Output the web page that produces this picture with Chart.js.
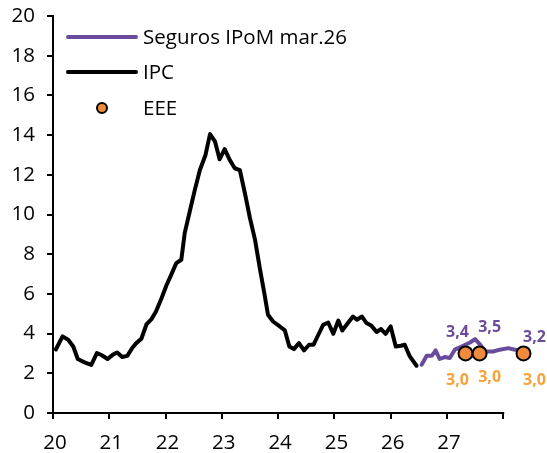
<!DOCTYPE html>
<html>
<head>
<meta charset="utf-8">
<script src="https://cdn.jsdelivr.net/npm/chart.js@4"></script>
<style>
html,body{margin:0;padding:0;background:#fff;}
#wrap{width:547px;height:453px;position:relative;}
</style>
</head>
<body>
<div id="wrap"><canvas id="c" width="547" height="453"></canvas></div>
<script>
// ---- Data (x in years, e.g. 22.5 = mid-2022) ----
const ipcX = [20.05,20.17,20.27,20.36,20.44,20.56,20.68,20.78,20.86,20.97,21.06,21.14,21.23,21.32,21.41,21.48,21.57,21.66,21.75,21.83,21.93,22.02,22.10,22.19,22.28,22.34,22.43,22.52,22.61,22.71,22.79,22.88,22.96,23.05,23.14,23.23,23.32,23.41,23.50,23.59,23.68,23.75,23.82,23.91,24.03,24.12,24.20,24.28,24.37,24.46,24.55,24.63,24.73,24.80,24.89,24.98,25.07,25.14,25.24,25.33,25.40,25.49,25.57,25.66,25.75,25.83,25.91,26.00,26.09,26.18,26.25,26.34,26.46];
const ipcY = [3.2,3.86,3.69,3.35,2.72,2.55,2.42,3.02,2.92,2.72,2.93,3.05,2.82,2.88,3.29,3.52,3.74,4.46,4.73,5.11,5.79,6.46,6.96,7.55,7.72,9.06,10.15,11.24,12.24,13.0,14.05,13.67,12.78,13.29,12.75,12.33,12.24,11.07,9.81,8.72,7.21,6.12,4.95,4.61,4.36,4.16,3.35,3.22,3.52,3.15,3.44,3.44,4.03,4.44,4.56,3.99,4.66,4.16,4.53,4.86,4.70,4.86,4.53,4.39,4.08,4.23,3.99,4.36,3.35,3.39,3.44,2.85,2.38];
const segX = [26.55,26.64,26.73,26.80,26.87,26.96,27.05,27.14,27.29,27.41,27.50,27.59,27.68,27.82,27.94,28.09,28.21,28.33];
const segY = [2.43,2.88,2.88,3.15,2.72,2.82,2.77,3.19,3.39,3.55,3.72,3.44,3.10,3.10,3.19,3.27,3.19,3.10];
const eeeX = [27.33,27.58,28.36];
const eeeY = [3.0,3.0,3.0];
const segLabels = ['3,4','3,5','3,2'];
const eeeLabels = ['3,0','3,0','3,0'];
const yTicks = [0,2,4,6,8,10,12,14,16,18,20];
const xTickValues = [20,21,22,23,24,25,26,27,28];
const xTickLabels = ['20','21','22','23','24','25','26','27',''];
const seriesNames = ['Seguros IPoM mar.26','IPC','EEE'];

const PURPLE = '#6A4C9C';
const ORANGE = '#F08A3C';
const ORANGE_TXT = '#F7A13A';
const FONT = "'Open Sans', 'Noto Sans', sans-serif";
const FSIZE = 20.5;

const toPts = (xs, ys) => xs.map((x,i)=>({x:x,y:ys[i]}));

const legendPlugin = {
  id:'customLegend',
  afterDraw(chart){
    const ctx = chart.ctx;
    ctx.save();
    ctx.font = FSIZE + "px " + FONT;
    ctx.textBaseline = 'middle';
    ctx.textAlign = 'left';
    const rows = [37,72,108];
    ctx.lineCap = 'round';
    ctx.lineWidth = 4;
    ctx.strokeStyle = PURPLE;
    ctx.beginPath(); ctx.moveTo(68,rows[0]); ctx.lineTo(136,rows[0]); ctx.stroke();
    ctx.strokeStyle = '#000';
    ctx.beginPath(); ctx.moveTo(68,rows[1]); ctx.lineTo(136,rows[1]); ctx.stroke();
    ctx.fillStyle = ORANGE; ctx.strokeStyle = '#000'; ctx.lineWidth = 2;
    ctx.beginPath(); ctx.arc(102,rows[2],5,0,Math.PI*2); ctx.fill(); ctx.stroke();
    ctx.fillStyle = '#000';
    seriesNames.forEach((n,i)=>ctx.fillText(n,143,rows[i]+1));
    ctx.restore();
  }
};

// x axis line only spans the labelled years (20..28), data may run past it
const axisLinePlugin = {
  id:'xAxisLine',
  afterDraw(chart){
    const ctx = chart.ctx, xs = chart.scales.x;
    const y = chart.chartArea.bottom;
    ctx.save();
    ctx.strokeStyle = '#000'; ctx.lineWidth = 2;
    ctx.beginPath();
    ctx.moveTo(xs.getPixelForValue(20)-1, y);
    ctx.lineTo(xs.getPixelForValue(28)+1, y);
    ctx.stroke();
    ctx.restore();
  }
};

const labelPlugin = {
  id:'valueLabels',
  afterDatasetsDraw(chart){
    const ctx = chart.ctx;
    const xs = chart.scales.x, ys = chart.scales.y;
    const dx = [-8,10,11];
    const segDy = [-13,-16,-12];
    const eeeDy = [27,24,27];
    ctx.save();
    ctx.font = "bold 16px " + FONT;
    ctx.textAlign = 'center';
    ctx.textBaseline = 'middle';
    eeeX.forEach((x,i)=>{
      const px = xs.getPixelForValue(x) + dx[i];
      ctx.fillStyle = PURPLE;
      ctx.fillText(segLabels[i], px, ys.getPixelForValue(parseFloat(segLabels[i].replace(',','.'))) + segDy[i]);
      ctx.fillStyle = ORANGE_TXT;
      ctx.fillText(eeeLabels[i], px, ys.getPixelForValue(eeeY[i]) + eeeDy[i]);
    });
    ctx.restore();
  }
};

new Chart(document.getElementById('c'), {
  type:'line',
  data:{
    datasets:[
      {label:seriesNames[1], data:toPts(ipcX,ipcY), borderColor:'#000', borderWidth:4, pointRadius:0, tension:0, clip:false, order:3, borderJoinStyle:'round', borderCapStyle:'round'},
      {label:seriesNames[0], data:toPts(segX,segY), borderColor:PURPLE, borderWidth:4, pointRadius:0, tension:0, clip:false, order:2, borderJoinStyle:'round', borderCapStyle:'round'},
      {label:seriesNames[2], data:toPts(eeeX,eeeY), showLine:false, pointRadius:7, pointBackgroundColor:ORANGE, pointBorderColor:'#000', pointBorderWidth:2, clip:false, order:1}
    ]
  },
  options:{
    responsive:false,
    animation:false,
    devicePixelRatio:1,
    layout:{padding:{top:16,right:10,left:0,bottom:0}},
    plugins:{legend:{display:false}, tooltip:{enabled:false}},
    scales:{
      x:{
        type:'linear', min:20, max:28.6,
        afterBuildTicks(s){ s.ticks = xTickValues.map(v=>({value:v})); },
        afterFit(s){ s.height = 40; s.paddingLeft = 0; s.paddingRight = 0; },
        ticks:{ callback:(v)=> xTickLabels[xTickValues.indexOf(v)] || '', font:{family:FONT,size:FSIZE}, color:'#000', padding:12, labelOffset:2, maxRotation:0, autoSkip:false },
        grid:{display:true, drawOnChartArea:false, drawTicks:true, tickLength:6, color:'#000', lineWidth:2},
        border:{display:false}
      },
      y:{
        type:'linear', min:0, max:20,
        afterBuildTicks(s){ s.ticks = yTicks.map(v=>({value:v})); },
        afterFit(s){ s.width = 53; s.paddingTop = 0; s.paddingBottom = 0; },
        ticks:{ font:{family:FONT,size:FSIZE}, color:'#000', padding:12 },
        grid:{display:true, drawOnChartArea:false, drawTicks:true, tickLength:6, color:'#000', lineWidth:2},
        border:{display:true, color:'#000', width:2}
      }
    }
  },
  plugins:[legendPlugin,labelPlugin,axisLinePlugin]
});
</script>
</body>
</html>
